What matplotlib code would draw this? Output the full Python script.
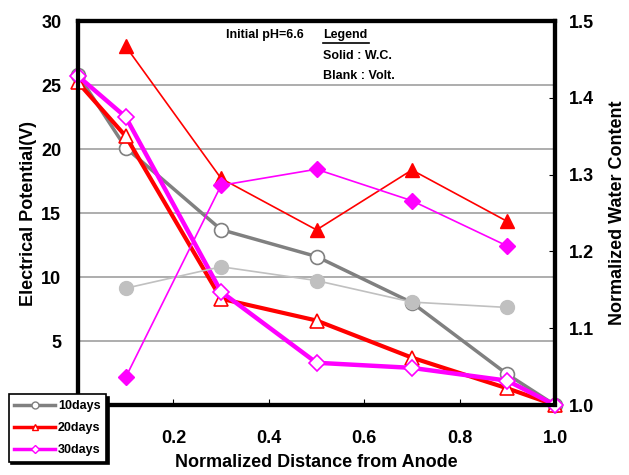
import matplotlib.pyplot as plt
from matplotlib.lines import Line2D

plt.rcParams["font.family"] = ["Liberation Sans", "DejaVu Sans"]
plt.rcParams["font.weight"] = "bold"

# distances
x_volt = [0.0, 0.1, 0.3, 0.5, 0.7, 0.9, 1.0]
x_wc = [0.1, 0.3, 0.5, 0.7, 0.9]

# electrical potential (V)
volt_10 = [25.8, 20.1, 13.7, 11.6, 8.0, 2.4, 0.0]
volt_20 = [25.2, 21.0, 8.3, 6.6, 3.7, 1.3, 0.0]
volt_30 = [25.7, 22.5, 8.85, 3.3, 2.9, 1.9, 0.0]

# normalized water content
wc_10 = [1.152, 1.180, 1.162, 1.134, 1.127]
wc_20 = [1.467, 1.295, 1.228, 1.306, 1.239]
wc_30 = [1.036, 1.286, 1.307, 1.266, 1.207]

labels = ["10days", "20days", "30days"]

fig = plt.figure(figsize=(6.29, 4.75), dpi=100)
ax = fig.add_axes([78 / 629, 70 / 475, 477 / 629, 384 / 475])
ax2 = ax.twinx()

ax.set_xlim(0, 1.0)
ax.set_ylim(0, 30)
ax2.set_ylim(1.0, 1.5)

for y in [5, 10, 15, 20, 25]:
    ax.axhline(y, color="#a0a0a0", lw=1.2, zorder=0)

ax.plot(x_volt, volt_10, color="#808080", lw=2.5, marker="o", ms=10,
        mfc="white", mec="#808080", mew=1.2, clip_on=False, zorder=3)
ax.plot(x_volt, volt_20, color="red", lw=3, marker="^", ms=10,
        mfc="white", mec="red", mew=1.2, clip_on=False, zorder=3)
ax.plot(x_volt, volt_30, color="magenta", lw=3.2, marker="D", ms=8,
        mfc="white", mec="magenta", mew=1.2, clip_on=False, zorder=4)

ax2.plot(x_wc, wc_10, color="#c0c0c0", lw=1.2, marker="o", ms=10,
         mfc="#c0c0c0", mec="#c0c0c0")
ax2.plot(x_wc, wc_20, color="red", lw=1.2, marker="^", ms=10,
         mfc="red", mec="red")
ax2.plot(x_wc, wc_30, color="magenta", lw=1.2, marker="D", ms=8,
         mfc="magenta", mec="magenta")

for a in (ax, ax2):
    for s in a.spines.values():
        s.set_linewidth(3)

ax.set_xticks([0.2, 0.4, 0.6, 0.8, 1.0])
ax.set_xticklabels(["0.2", "0.4", "0.6", "0.8", "1.0"])
ax.set_yticks([5, 10, 15, 20, 25, 30])
ax2.set_yticks([1.0, 1.1, 1.2, 1.3, 1.4, 1.5])
ax2.set_yticklabels(["1.0", "1.1", "1.2", "1.3", "1.4", "1.5"])
ax.tick_params(axis="x", direction="in", length=4, pad=18, labelsize=13)
ax.tick_params(axis="y", length=0, pad=12, labelsize=13)
ax2.tick_params(axis="y", direction="in", length=4, pad=10, labelsize=13)

ax.set_xlabel("Normalized Distance from Anode", fontsize=13, fontweight="bold", labelpad=5)
ax.set_ylabel("Electrical Potential(V)", fontsize=13, fontweight="bold", labelpad=3)
ax2.set_ylabel("Normalized Water Content", fontsize=13, fontweight="bold", labelpad=11)

ax.text(0.31, 0.955, "Initial pH=6.6", transform=ax.transAxes, fontsize=9, fontweight="bold")
ax.text(0.513, 0.955, "Legend", transform=ax.transAxes, fontsize=9, fontweight="bold")
ax.plot([0.513, 0.61], [0.943, 0.943], transform=ax.transAxes, color="black", lw=1.2)
ax.text(0.513, 0.90, "Solid : W.C.", transform=ax.transAxes, fontsize=9, fontweight="bold")
ax.text(0.513, 0.848, "Blank : Volt.", transform=ax.transAxes, fontsize=9, fontweight="bold")

handles = [
    Line2D([], [], color="#808080", lw=2.5, marker="o", ms=5, mfc="white", mec="#808080"),
    Line2D([], [], color="red", lw=2.5, marker="^", ms=5, mfc="white", mec="red"),
    Line2D([], [], color="magenta", lw=2.5, marker="D", ms=4, mfc="white", mec="magenta"),
]
leg = fig.legend(handles, labels, loc="lower left", bbox_to_anchor=(6 / 629, 11 / 475),
                 fontsize=9, frameon=True, fancybox=False, shadow={"color": "black", "alpha": 1},
                 handlelength=3.3, handletextpad=0.2, borderpad=0.45, labelspacing=0.8,
                 borderaxespad=0.2)
leg.get_frame().set_edgecolor("black")
leg.get_frame().set_linewidth(1.2)
for t in leg.get_texts():
    t.set_fontweight("bold")

fig.savefig("out.png", dpi=100)
